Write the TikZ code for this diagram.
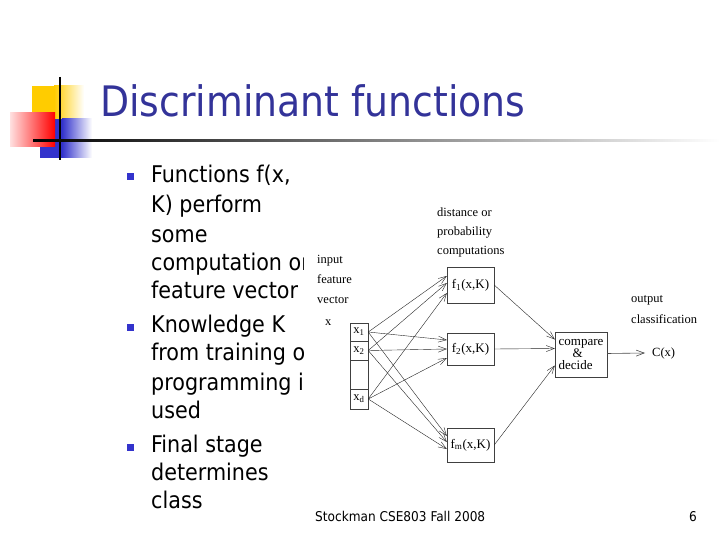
\documentclass[tikz,border=0pt]{standalone}
\usepackage{fontspec}
\setmainfont{DejaVu Sans Condensed}
\newfontfamily\diagfont{Liberation Serif}
\usepackage{tikz}
\usetikzlibrary{arrows.meta,positioning}
\usepackage{xcolor}
\definecolor{ttlblue}{HTML}{333399}
\definecolor{bulblue}{HTML}{3333CC}
\definecolor{logoyellow}{HTML}{FFCC00}
\definecolor{logoblue}{HTML}{3333CC}
\tikzset{
  fbox/.style   = {draw=black!75, thin, rectangle, inner sep=0pt,
                   minimum width=47pt, font=\diagfont\fontsize{13}{15}\selectfont},
  cell/.style   = {draw=black!75, thin, rectangle, inner sep=0pt,
                   minimum width=18pt, font=\diagfont\fontsize{12.5}{14}\selectfont},
  lbl/.style    = {inner sep=0pt, align=left, font=\diagfont\fontsize{12.5}{19}\selectfont},
  feed/.style   = {-{Straight Barb[length=8pt,width=6pt]}, thin, black!85},
  bullet/.style = {fill=bulblue, inner sep=0pt, minimum size=7pt},
  body/.style   = {inner sep=0pt, font=\fontsize{23}{28}\selectfont},
}

\begin{document}
\begin{tikzpicture}[x=1pt,y=-1pt]
\useasboundingbox (0,0) rectangle (720,540);
% logo
\fill[logoyellow] (32,86) rectangle (54,119);
\shade[left color=logoyellow, right color=white] (54,86) rectangle (84,119);
\fill[logoblue] (40,119) rectangle (62,158);
\shade[left color=logoblue, right color=white] (62,119) rectangle (92,158);
\shade[left color=red!12, right color=red] (10,113) rectangle (55,147);
\draw[line width=2pt] (60,77) -- (60,160);
\shade[left color=black, middle color=black!45, right color=white] (33,140) rectangle (720,142);
% title
\node[anchor=base west, inner sep=0pt, text=ttlblue, font=\fontsize{42}{48}\selectfont]
  (title) at (100,117) {Discriminant functions};
% bullets
\node[bullet] (b1) at (130,177) {};
\node[bullet] (b2) at (130,327) {};
\node[bullet] (b3) at (130,447) {};
\foreach \yy/\txt in {183/{Functions f(x,}, 213/{K) perform}, 242/{some},
    270/{computation on}, 298/{feature vector}, 332/{Knowledge K},
    360/{from training or}, 390/{programming is}, 418/{used},
    452/{Final stage}, 480/{determines}, 508/{class}}
  \node[body, anchor=base west] (line\yy) at (151,\yy) {\txt};
% diagram
\fill[white] (304,195) rectangle (705,470);
\node[lbl, anchor=north west] (dist) at (437,208) {distance or\\probability\\computations};
\node[lbl, anchor=north west, font=\diagfont\fontsize{12.5}{20}\selectfont]
  (inp) at (317,255) {input\\feature\\vector};
\node[lbl, anchor=base west] (xlbl) at (325,325) {x};
\node[cell, minimum height=18pt] (x1) at (359,332) {x\textsubscript{1}};
\node[cell, minimum height=19pt] (x2) at (359,350.5) {x\textsubscript{2}};
\node[cell, minimum height=29pt] (xe) at (359,374.5) {};
\node[cell, minimum height=20pt] (xd) at (359,399) {x\textsubscript{d}};
\node[fbox, minimum height=36pt] (f1) at (470.5,285) {f\textsubscript{1}(x,K)};
\node[fbox, minimum height=32pt] (f2) at (470.5,349) {f\textsubscript{2}(x,K)};
\node[fbox, minimum height=34pt] (fm) at (470.5,445) {f\textsubscript{m}(x,K)};
\node[fbox, minimum width=52pt, minimum height=45pt, align=left,
      font=\diagfont\fontsize{13}{12}\selectfont]
  (cmp) at (581,354.5) {compare\\\hspace*{14pt}\&\\decide};
\node[lbl, anchor=north west, font=\diagfont\fontsize{12.5}{21}\selectfont]
  (outp) at (631,295) {output\\classification};
\node[lbl, anchor=west, inner xsep=7pt] (cx) at (645,353) {C(x)};
% inputs to discriminants
\foreach \src/\dst/\dy in {x1/f1/9, x2/f1/2, xd/f1/-8,
                           x1/f2/9, x2/f2/0, xd/f2/-9,
                           x1/fm/9, x2/fm/3, xd/fm/-4}
  \draw[feed] (\src.east) -- ([yshift=\dy pt]\dst.west);
% discriminants to decision
\draw[feed] (f1.east) -- ([yshift=15pt]cmp.west);
\draw[feed] (f2.east) -- ([yshift=6pt]cmp.west);
\draw[feed] (fm.east) -- ([yshift=-11pt]cmp.west);
\draw[feed, black!70, semithick] ([yshift=1pt]cmp.east) -- (cx.west);
% footer
\node[anchor=base west, inner sep=0pt, font=\fontsize{13.5}{16}\selectfont]
  (foot) at (315,521) {Stockman CSE803 Fall 2008};
\node[anchor=base west, inner sep=0pt, font=\fontsize{13.5}{16}\selectfont]
  (pnum) at (689,521) {6};
\end{tikzpicture}
\end{document}
